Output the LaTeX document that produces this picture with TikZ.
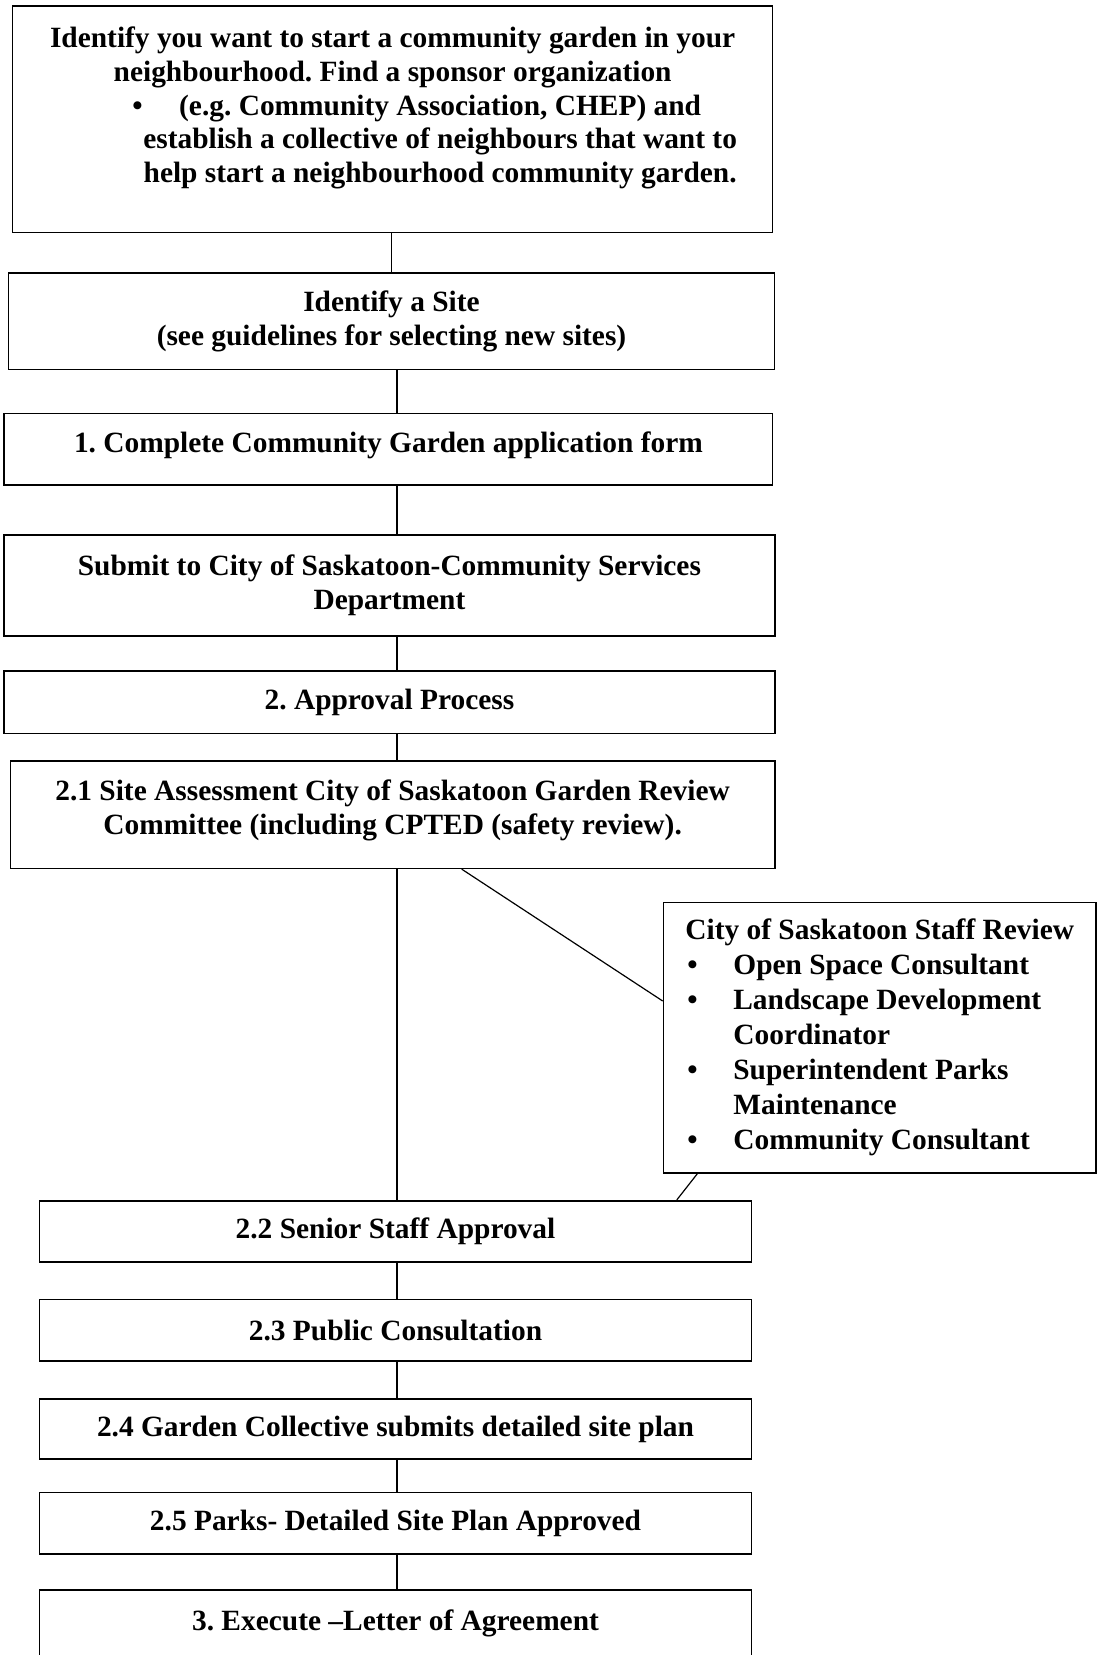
\documentclass[tikz,border=0pt]{standalone}
\usepackage{fontspec}
\setmainfont{Liberation Serif}
\frenchspacing
\newcommand{\staffitem}{\hspace*{1pt}\makebox[23pt][l]{\textbullet}}
\newcommand{\staffcont}{\hspace*{24pt}}

\begin{document}
\begin{tikzpicture}[x=0.5pt,y=-0.5pt,
    box/.style={draw,line width=0.8pt,align=center,inner sep=0pt,
        font=\bfseries\fontsize{14.7}{16.9}\selectfont},
    link/.style={line width=0.6pt}]
    \useasboundingbox (0,0) rectangle (1103,1655);
    \clip (0,0) rectangle (1103,1655);
    \coordinate (spine) at (397,0);

    % main column
    \node[box,minimum width=380pt,minimum height=113.15pt] (start) at (392.65,119.15)
        {Identify you want to start a community garden in your\\
         neighbourhood. Find a sponsor organization\\
         \hspace*{47.5pt}\llap{\textbullet\hspace{18.3pt}}(e.g. Community Association, CHEP) and\\
         \hspace*{47.5pt}establish a collective of neighbours that want to\\
         \hspace*{47.5pt}help start a neighbourhood community garden.\\[-2.5pt]
         \mbox{}};
    \node[box,minimum width=383.15pt,minimum height=48.3pt] (site) at (391.5,321)
        {Identify a Site\\(see guidelines for selecting new sites)};
    \node[box,minimum width=384.2pt,minimum height=35.85pt,text depth=7.2pt] (form) at (388.4,449.15)
        {1. Complete Community Garden application form};
    \node[box,minimum width=385.25pt,minimum height=50.35pt] (submit) at (389.45,585.35)
        {Submit to City of Saskatoon-Community Services\\Department};
    \node[box,minimum width=385.25pt,minimum height=31.15pt] (approval) at (389.45,702.15)
        {2. Approval Process};
    \node[box,minimum width=382.05pt,minimum height=53.65pt] (assess) at (392.65,814.65)
        {2.1 Site Assessment City of Saskatoon Garden Review\\
         Committee (including CPTED (safety review).\\[-9.7pt]
         \mbox{}};

    % staff review
    \node[box,align=left,minimum width=216.25pt,minimum height=135.1pt,
        font=\bfseries\fontsize{14.7}{17.5}\selectfont] (staff) at (879.75,1037.6)
        {City of Saskatoon Staff Review\\
         \staffitem Open Space Consultant\\
         \staffitem Landscape Development\\
         \staffcont Coordinator\\
         \staffitem Superintendent Parks\\
         \staffcont Maintenance\\
         \staffitem Community Consultant};

    % lower column
    \node[box,minimum width=356pt,minimum height=30.5pt] (senior) at (395.5,1231.2)
        {2.2 Senior Staff Approval};
    \node[box,minimum width=356pt,minimum height=30.7pt] (public) at (395.5,1330)
        {2.3 Public Consultation};
    \node[box,minimum width=356pt,minimum height=30pt] (plan) at (395.5,1429)
        {2.4 Garden Collective submits detailed site plan};
    \node[box,minimum width=356pt,minimum height=30.85pt] (parks) at (395.5,1523.15)
        {2.5 Parks- Detailed Site Plan Approved};
    \node[box,anchor=north,minimum width=356pt,inner ysep=10pt,text height=10pt,text depth=40pt]
        (letter) at (395.5,1589.3) {3. Execute –Letter of Agreement};

    \draw[link](site.north)--(site.north|-start.south);
    \draw[link](spine|-site.south)--(spine|-form.north);
    \draw[link](spine|-form.south)--(spine|-submit.north);
    \draw[link](spine|-submit.south)--(spine|-approval.north);
    \draw[link](spine|-approval.south)--(spine|-assess.north);
    \draw[link](spine|-assess.south)--(spine|-senior.north);
    \draw[link]([xshift=34.5pt]assess.south)--([yshift=18.3pt]staff.west);
    \draw[link]([xshift=17.4pt]staff.south west)--([xshift=-37.75pt]senior.north east);
    \draw[link](spine|-senior.south)--(spine|-public.north);
    \draw[link](spine|-public.south)--(spine|-plan.north);
    \draw[link](spine|-plan.south)--(spine|-parks.north);
    \draw[link](spine|-parks.south)--(spine|-letter.north);
\end{tikzpicture}
\end{document}
